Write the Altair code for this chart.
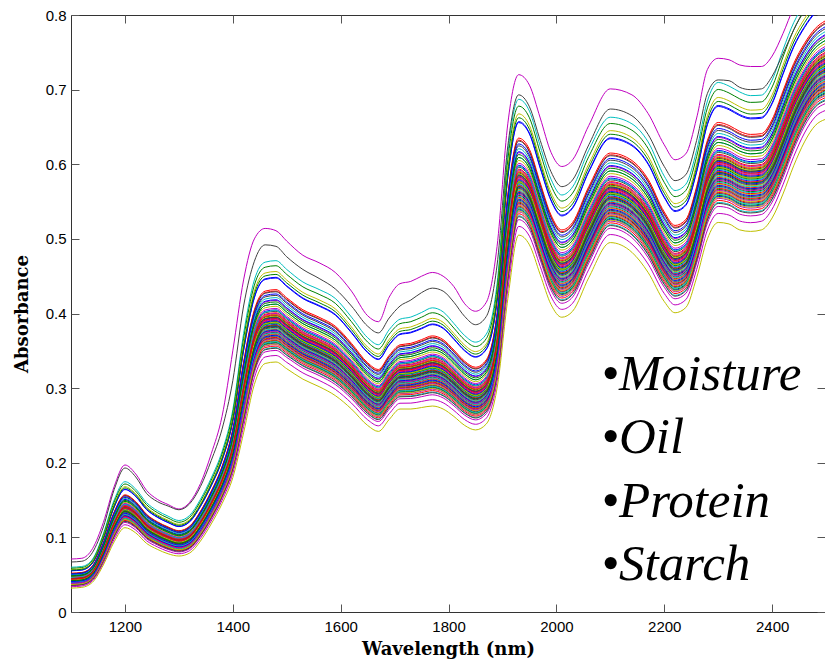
import altair as alt
import pandas as pd

# ---- data -----------------------------------------------------------------
wavelengths = [1100, 1120, 1140, 1160, 1180, 1200, 1220, 1240, 1260, 1280, 1300,
               1320, 1340, 1360, 1380, 1400, 1420, 1440, 1460, 1480, 1500, 1530,
               1560, 1590, 1620, 1650, 1670, 1690, 1710, 1730, 1750, 1770, 1790,
               1810, 1830, 1850, 1870, 1890, 1910, 1930, 1950, 1970, 1990, 2010,
               2030, 2060, 2100, 2140, 2170, 2200, 2220, 2240, 2260, 2280, 2300,
               2320, 2340, 2360, 2380, 2400, 2420, 2440, 2460, 2480, 2498]

# lowest spectrum (yellow)
bottom_spectrum = [.032, .033, .040, .063, .094, .113, .106, .092, .084, .078, .075,
                   .079, .095, .118, .145, .180, .240, .305, .333, .335, .326, .312,
                   .302, .290, .272, .250, .242, .258, .272, .272, .274, .276, .272,
                   .262, .250, .244, .252, .300, .420, .505, .492, .452, .412, .395,
                   .403, .448, .495, .482, .455, .416, .401, .408, .448, .500, .522,
                   .520, .512, .510, .512, .528, .560, .598, .630, .652, .660]

# upper edge of the dense band of spectra
band_top_spectrum = [.052, .053, .062, .093, .134, .157, .148, .131, .121, .114, .109,
                     .115, .135, .162, .195, .245, .335, .405, .430, .432, .421, .405,
                     .395, .383, .360, .334, .325, .344, .358, .360, .365, .370, .365,
                     .351, .336, .328, .338, .400, .560, .635, .620, .575, .532, .512,
                     .522, .570, .615, .605, .580, .536, .518, .526, .570, .632, .656,
                     .652, .644, .640, .641, .660, .698, .735, .762, .782, .792]

# second highest spectrum (dark grey)
second_spectrum = [.067, .068, .080, .114, .164, .193, .181, .159, .148, .142, .137,
                   .145, .168, .203, .245, .310, .410, .470, .492, .490, .476, .459,
                   .447, .433, .410, .383, .374, .394, .410, .418, .428, .434, .430,
                   .415, .396, .385, .396, .465, .625, .693, .677, .632, .590, .570,
                   .579, .626, .674, .665, .640, .597, .578, .586, .632, .695, .713,
                   .712, .703, .700, .701, .718, .748, .780, .808, .830, .845]

# highest spectrum (magenta)
top_spectrum = [.071, .072, .085, .120, .168, .197, .185, .163, .151, .144, .138,
                .147, .172, .212, .262, .350, .445, .500, .514, .511, .497, .478,
                .468, .455, .430, .397, .389, .422, .440, .443, .450, .455, .450,
                .436, .413, .403, .415, .490, .655, .720, .706, .662, .616, .597,
                .606, .652, .701, .693, .668, .626, .606, .614, .662, .727, .742,
                .740, .733, .731, .731, .745, .775, .810, .835, .855, .870]

# position of every other sample relative to the band (0 = lowest, 1 = band top)
band_positions = [1.16, 0.62, 0.45, 1.40, 0.09, 0.00, 0.55, 1.17, 1.33, 0.30, 0.80,
                  1.25, 0.72, 1.21, 0.98, 0.35, 0.50, 0.66, 0.92, 0.26, 0.41, 0.58,
                  0.20, 0.85, 0.38, 0.70, 0.52, 0.33, 1.00, 0.60, 0.24, 0.47, 0.29,
                  0.86, 0.64, 0.39, 0.53, 0.16, 0.77, 0.43, 0.61, 0.27, 0.68, 0.46,
                  0.74, 0.31, 0.97, 0.49, 0.56, 0.22, 0.89, 0.42, 0.63, 0.36, 0.57,
                  0.80, 0.51, 0.28, 0.67, 0.44, 0.19, 0.94, 0.54, 0.34, 0.71, 0.59,
                  0.25, 0.48, 0.37, 0.83, 0.65, 0.40, 0.32, 0.55, 0.62, 0.44, 0.50,
                  0.60]

n_samples = 80
top_id = 11
second_id = 13

annotation_lines = ["\u2022Moisture", "\u2022Oil", "\u2022Protein", "\u2022Starch"]
x_ticks = [1200, 1400, 1600, 1800, 2000, 2200, 2400]
y_ticks = [0, 0.1, 0.2, 0.3, 0.4, 0.5, 0.6, 0.7, 0.8]

# ---- build table ----------------------------------------------------------
rows = []
k = 0
for sid in range(n_samples):
    name = f"s{sid:02d}"
    if sid == top_id:
        vals = top_spectrum
    elif sid == second_id:
        vals = second_spectrum
    else:
        f = band_positions[k]
        k += 1
        vals = [lo + f * (hi - lo) for lo, hi in zip(bottom_spectrum, band_top_spectrum)]
    for w, v in zip(wavelengths, vals):
        rows.append({"sample": name, "wavelength": w, "absorbance": v})
df = pd.DataFrame(rows)

cycle = ["#0000ff", "#008000", "#ff0000", "#00bfbf", "#bf00bf", "#bfbf00", "#404040"]
ids = [f"s{i:02d}" for i in range(n_samples)]
id_colors = [cycle[i % 7] for i in range(n_samples)]

xscale = alt.Scale(domain=[1100, 2498], nice=False, zero=False)
yscale = alt.Scale(domain=[0, 0.8], nice=False, zero=False)

tick_font = "Liberation Sans"
title_font = "DejaVu Serif"

lines = alt.Chart(df).mark_line(strokeWidth=1, clip=True, interpolate="monotone").encode(
    x=alt.X("wavelength:Q", scale=xscale,
            axis=alt.Axis(orient="bottom", values=x_ticks, format="d", offset=-8,
                          tickSize=8, domain=False, grid=False, labelFont=tick_font,
                          labelFontSize=15, labelColor="black", tickColor="#555",
                          labelPadding=7, labelFlush=False,
                          title="Wavelength (nm)", titleFont=title_font,
                          titleFontSize=18, titleFontWeight="bold", titleColor="black",
                          titlePadding=6)),
    y=alt.Y("absorbance:Q", scale=yscale,
            axis=alt.Axis(orient="left", values=y_ticks, format=".1~f", offset=-8,
                          tickSize=8, domain=False, grid=False, labelFont=tick_font,
                          labelFontSize=15, labelColor="black", tickColor="#555",
                          labelPadding=5, labelFlush=False,
                          title="Absorbance", titleFont=title_font,
                          titleFontSize=18, titleFontWeight="bold", titleColor="black",
                          titlePadding=14)),
    color=alt.Color("sample:N", scale=alt.Scale(domain=ids, range=id_colors), legend=None),
    detail="sample:N",
)

anchor = pd.DataFrame({"wavelength": [2083], "absorbance": [0.2975]})
text = alt.Chart(anchor).mark_text(
    text=annotation_lines, align="left", baseline="alphabetic",
    font="Liberation Serif", fontStyle="italic", fontSize=51, lineHeight=63.5,
    color="black",
).encode(
    x=alt.X("wavelength:Q", scale=xscale,
            axis=alt.Axis(orient="top", values=x_ticks, offset=-8, tickSize=8,
                          domain=False, grid=False, labels=False, tickColor="#555",
                          title=None)),
    y=alt.Y("absorbance:Q", scale=yscale,
            axis=alt.Axis(orient="right", values=y_ticks, offset=-8, tickSize=8,
                          domain=False, grid=False, labels=False, tickColor="#555",
                          title=None)),
)

chart = alt.layer(lines, text).resolve_axis(x="independent", y="independent").properties(
    width=754, height=597,
    padding={"left": 71, "top": 15, "right": 0, "bottom": 50},
    autosize=alt.AutoSizeParams(type="none"),
    background="white",
).configure_view(stroke="#333", strokeWidth=1)

chart.save("out.html", embed_options={"renderer": "svg", "actions": False})
